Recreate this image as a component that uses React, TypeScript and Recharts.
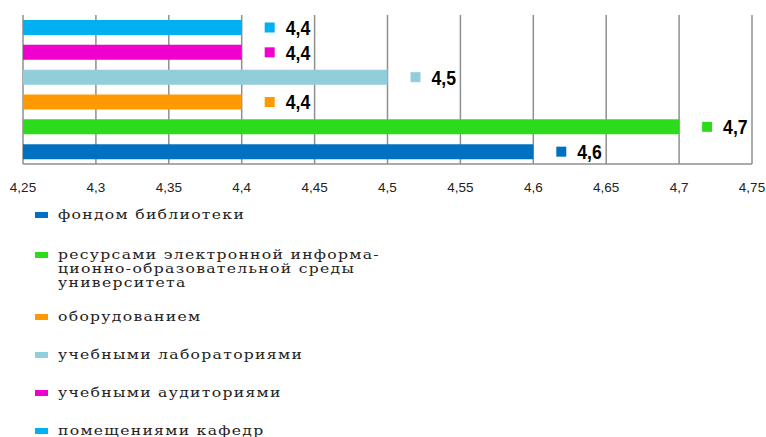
import React from 'react'
import { BarChart, Bar, XAxis, YAxis, CartesianGrid, Cell, LabelList } from 'recharts'

const categories = [
  'фондом библиотеки',
  'ресурсами электронной информационно-образовательной среды университета',
  'оборудованием',
  'учебными лабораториями',
  'учебными аудиториями',
  'помещениями кафедр',
]
const legendLines = [
  ['фондом библиотеки'],
  ['ресурсами электронной информа-', 'ционно-образовательной среды', 'университета'],
  ['оборудованием'],
  ['учебными лабораториями'],
  ['учебными аудиториями'],
  ['помещениями кафедр'],
]
const values = [4.6, 4.7, 4.4, 4.5, 4.4, 4.4]
const valueLabels = ['4,6', '4,7', '4,4', '4,5', '4,4', '4,4']
const colors = ['#0070C0', '#2EDB1C', '#FF9900', '#92CDDC', '#F000CC', '#00B0F0']
const xTicks = [4.25, 4.3, 4.35, 4.4, 4.45, 4.5, 4.55, 4.6, 4.65, 4.7, 4.75]
const xTickLabels = ['4,25', '4,3', '4,35', '4,4', '4,45', '4,5', '4,55', '4,6', '4,65', '4,7', '4,75']

const legendTops = [215, 255, 317, 355, 393, 431]

const data = categories.map((name, i) => ({ name, value: values[i] }))

// square marker + narrow bold value, placed right of the bar end
const ValueLabel = (props: any) => {
  const { x, y, width, height, index } = props
  const end = x + width
  const cy = y + height / 2
  return (
    <g>
      <rect x={end + 23} y={cy - 5} width={10} height={10} fill={colors[index]} />
      <text
        transform={`translate(${end + 44},${cy}) scale(0.86,1)`}
        dy="0.36em"
        fontFamily="Liberation Sans, Arial, sans-serif"
        fontWeight="bold"
        fontSize={20.5}
        fill="#000"
      >
        {valueLabels[index]}
      </text>
    </g>
  )
}

export default function App() {
  return (
    <div style={{ position: 'absolute', left: 0, top: 0, width: 766, height: 437, background: '#fff' }}>
      <BarChart
        width={766}
        height={437}
        data={data}
        layout="vertical"
        margin={{ top: 15, right: 14, left: 23, bottom: 243 }}
      >
        <CartesianGrid horizontal={false} stroke="#8f8f8f" strokeWidth={1.5} />
        <XAxis
          type="number"
          domain={[4.25, 4.75]}
          ticks={xTicks}
          interval={0}
          height={30}
          tickFormatter={(v: number) => xTickLabels[xTicks.indexOf(v)] ?? String(v)}
          tick={{ fontFamily: 'Liberation Sans', fontSize: 13.5, fill: '#222' }}
          tickLine={false}
          axisLine={{ stroke: '#8f8f8f', strokeWidth: 1.5 }}
          tickMargin={12}
          allowDataOverflow
        />
        <YAxis type="category" dataKey="name" reversed hide />
        <Bar dataKey="value" barSize={15} isAnimationActive={false}>
          {data.map((_, i) => (
            <Cell key={i} fill={colors[i]} />
          ))}
          <LabelList dataKey="value" content={<ValueLabel />} />
        </Bar>
      </BarChart>
      {legendLines.map((lines, i) => (
        <div key={i} style={{ position: 'absolute', left: 35, top: legendTops[i] - 7 }}>
          <div
            style={{
              position: 'absolute',
              left: 0,
              top: 4,
              width: 13,
              height: 6,
              background: colors[i],
            }}
          />
          <div
            style={{
              position: 'absolute',
              left: 23,
              top: 0,
              whiteSpace: 'nowrap',
              fontFamily: 'DejaVu Serif',
              fontSize: 12,
              lineHeight: '14px',
              letterSpacing: 1,
              color: '#222',
              transform: 'scaleX(1.3)',
              transformOrigin: 'left top',
            }}
          >
            {lines.map((l, j) => (
              <div key={j}>{l}</div>
            ))}
          </div>
        </div>
      ))}
    </div>
  )
}
